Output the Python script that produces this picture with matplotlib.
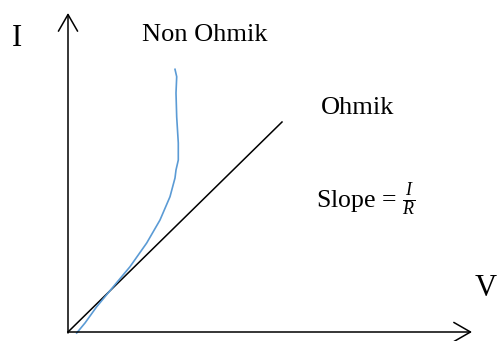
import matplotlib
matplotlib.use("Agg")
import matplotlib.pyplot as plt

# Values in pixel-like units, origin at the axes corner
axis_v_len = 404
axis_i_len = 319

ohmic_v = [0, 214]
ohmic_i = [0, 210]

# non-ohmic curve
nonohm_v = [8.7, 17, 28.7, 45.3, 62, 78.7, 92, 102, 107, 108, 110.3, 110.3,
            108.7, 108, 108.7, 107]
nonohm_i = [-1, 9, 25.3, 45.3, 65.3, 89, 112, 135.3, 154, 162, 172, 189,
            215, 239, 255.3, 262.7]

plt.rcParams['font.family'] = ['Liberation Serif', 'DejaVu Serif']
plt.rcParams['mathtext.fontset'] = 'custom'
plt.rcParams['mathtext.rm'] = 'Liberation Serif'
plt.rcParams['mathtext.it'] = 'Liberation Serif:italic'

fig = plt.figure(figsize=(4.97, 3.41), dpi=100)
ax = fig.add_axes([0, 0, 1, 1])
ax.set_xlim(-68, 429)
ax.set_ylim(-9, 332)
ax.axis('off')

arrow = dict(arrowstyle='->, head_length=0.4, head_width=0.23', mutation_scale=30,
             lw=1.1, color='black', shrinkA=0, shrinkB=0)
ax.annotate('', xy=(0, axis_i_len), xytext=(0, -1), arrowprops=arrow)
ax.annotate('', xy=(axis_v_len, 0), xytext=(0, 0), arrowprops=arrow)

ax.plot(ohmic_v, ohmic_i, color='black', lw=1.1)
ax.plot(nonohm_v, nonohm_i, color='#5B9BD5', lw=1.2, solid_joinstyle='round')

ax.text(-51, 294, 'I', fontsize=22, ha='center', va='center')
ax.text(418, 44, 'V', fontsize=22, ha='center', va='center')
ax.text(137, 297, 'Non Ohmik', fontsize=19, ha='center', va='center')
ax.text(290, 224, 'Ohmik', fontsize=19, ha='center', va='center')
ax.text(248, 132, r'Slope = $\frac{I}{R}$', fontsize=18.5, ha='left', va='center')

fig.savefig('out.png', dpi=100)
